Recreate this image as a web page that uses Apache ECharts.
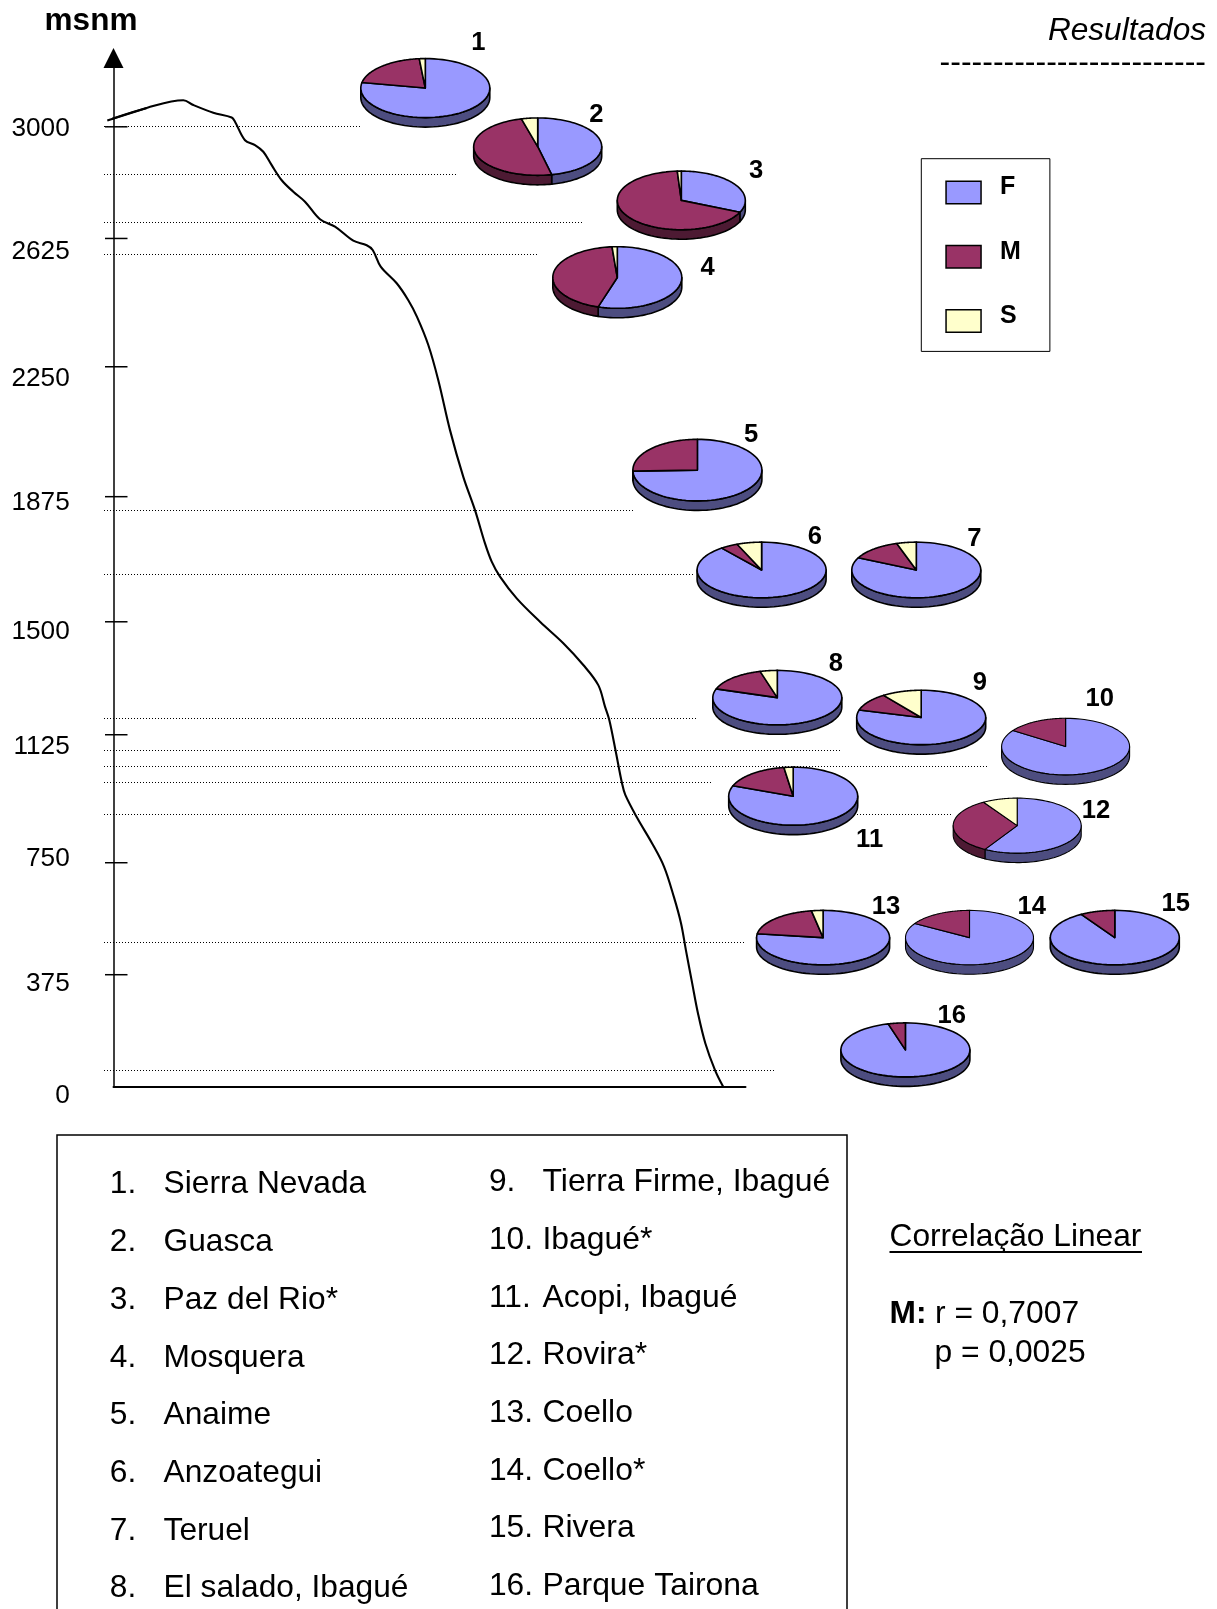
<!DOCTYPE html>
<html>
<head>
<meta charset="utf-8">
<title>msnm</title>
<script src="https://cdn.jsdelivr.net/npm/echarts@6/dist/echarts.min.js"></script>
<style>html,body{margin:0;padding:0;background:#fff}#c{width:1217px;height:1609px}</style>
</head>
<body>
<div id="c"></div>
<script>
// ---------- data ----------
const profileAcross = [-6.2,33.2,69.8,79.8,99.8,118.2,121.5,131.5,141.5,149.8,158.2,168.2,179.8,191.5,206.5,221.5,239.8,253.2,259.2,267.2,283.2,294.8,303.5,314.8,324.8,336.5,349.8,361.5,371.5,378.2,386.5,403.2,426.5,449.8,469.8,484.8,491.5,495.8,502.1,508.4,511.8,523.9,538.5,550.5,560.3,567.5,572.4,578.7,584.5,591.8,601.5,609.7];
const profileHeight = [3020,3059,3083,3068,3044,3029,3016,2958,2943,2922,2880,2833,2797,2766,2711,2688,2644,2630,2615,2563,2511,2458,2406,2318,2208,2052,1906,1802,1698,1641,1594,1526,1453,1386,1318,1255,1188,1146,1050,950,912,839,761,688,594,511,427,323,229,136,52,0];

const siteHeights = [3000,2850,2700,2600,1800,1600,1150,1050,1000,950,850,450,50];
const siteReach   = [247.2,342.5,469.2,423.2,519.2,581.2,584.1,726.5,873,599.8,837.5,630.5,661.2];

const tickLabels   = ['0','375','750','1125','1500','1875','2250','2625','3000'];
const tickDrawnAt  = [0,350,700,1100,1453,1844,2250,2651,3000];
const labelDrawnAt = [-21,328,719,1068,1430,1832,2219,2618,3000];

const pieNames = ['1','2','3','4','5','6','7','8','9','10','11','12','13','14','15','16'];
const pieF = [78,46.5,31.6,54.8,74.5,89.4,82.2,80.2,79.4,84.6,80.8,58.4,77.3,83.7,91.3,95.7];
const pieM = [20.5,49.4,67.4,43.9,25.5,4.4,12.9,15.5,10.7,15.4,16.9,32.8,19.9,16.3,8.7,4.3];
const pieS = [1.5,4.1,1,1.3,0,6.2,4.9,4.3,9.9,0,2.3,8.8,2.8,0,0,0];
const pieHeight = [3121,2938,2770,2529,1927,1615,1615,1216,1154,1063,908,816,466,466,466,115];
const pieAcross = [311.8,424.2,567.8,503.8,583.9,648.1,802.8,663.8,807.7,952.1,679.7,903.7,709.6,856,1001.3,791.9];

const sitesLeft  = ['Sierra Nevada','Guasca','Paz del Rio*','Mosquera','Anaime','Anzoategui','Teruel','El salado, Ibagué'];
const sitesRight = ['Tierra Firme, Ibagué','Ibagué*','Acopi, Ibagué','Rovira*','Coello','Coello*','Rivera','Parque Tairona'];

// ---------- layout and style ----------
const pieRadiusX = [64.5,64,64,64.5,64.5,64.5,64.5,64.5,64.5,64,64.5,64,66.5,64,64.5,64.5];
const pieRadiusY = [29.5,28.7,29.3,30.8,30.8,27.8,27.8,27.2,27.2,28.3,29,27.5,27.2,27.2,27.2,27];
const pieDepth = 9.5;
const pieLabelDx = [53,58.6,74.7,90.4,53.6,53.2,58.1,58.6,58.6,34.2,76.4,78.7,62.9,62.2,61,46.4];
const pieLabelDy = [-47.3,-34.4,-32,-11.6,-37.3,-36,-33.3,-36,-36.6,-50,41.7,-17.4,-33.4,-33.4,-36,-36];
const thinOutline = [9,11,13];
const colF = ['#9999FF','#4D4D80'], colM = ['#993366','#4D1A33'], colS = ['#FFFFCC','#80806A'];
const FONT = '"Liberation Sans", Arial, sans-serif';

const chart = echarts.init(document.getElementById('c'), null, {renderer:'canvas'});

function sliceRender(colors){
  return function(params, api){
    const share = api.value(2);
    if (!share) return null;
    const i = api.value(4);
    const c = api.coord([api.value(0), api.value(1)]);
    const rx = pieRadiusX[i], ry = pieRadiusY[i];
    const a0 = api.value(3) * 3.6, a1 = (api.value(3) + share) * 3.6;
    const lw = thinOutline.indexOf(i) >= 0 ? 1.1 : 1.6;
    const pt = (deg, dy) => {
      const r = deg * Math.PI / 180;
      return [c[0] + rx * Math.sin(r), c[1] - ry * Math.cos(r) + (dy || 0)];
    };
    const kids = [];
    const w0 = Math.max(a0, 90), w1 = Math.min(a1, 270);
    if (w1 > w0) {
      const up = [], down = [];
      for (let k = 0; k <= 48; k++) {
        const d = w0 + (w1 - w0) * k / 48;
        up.push(pt(d, 0));
        down.unshift(pt(d, pieDepth));
      }
      kids.push({type:'polygon', shape:{points: up.concat(down)},
        style:{fill: colors[1], stroke:'#000', lineWidth: lw, lineJoin:'round'}});
    }
    const top = [[c[0], c[1]]];
    for (let k = 0; k <= 72; k++) top.push(pt(a0 + (a1 - a0) * k / 72, 0));
    kids.push({type:'polygon', shape:{points: top},
      style:{fill: colors[0], stroke:'#000', lineWidth: lw, lineJoin:'round'}});
    return {type:'group', children: kids};
  };
}

function sliceData(values, starts){
  return values.map((v, i) => [pieAcross[i], pieHeight[i], v, starts[i], i]);
}
const zeros = pieF.map(() => 0);
const afterF = pieF.slice();
const afterM = pieF.map((v, i) => v + pieM[i]);

const base = {animation:false, silent:true, z:5};

const series = [
  {type:'custom', name:'dotted', silent:true, animation:false, z:1,
   data: siteHeights.map((h, i) => [siteReach[i], h]),
   encode:{x:0, y:1},
   renderItem(params, api){
     const a = api.coord([-9.2, api.value(1)]);
     const b = api.coord([api.value(0), api.value(1)]);
     const y = Math.floor(a[1]) + 0.5;
     return {type:'line', shape:{x1:Math.round(a[0]), y1:y, x2:Math.round(b[0]), y2:y},
       style:{stroke:'#000', lineWidth:1, lineDash:[1,2]}};
   }},
  {type:'custom', name:'ticks', silent:true, animation:false, z:3,
   data: tickDrawnAt.map((h, i) => [h, labelDrawnAt[i], i]),
   encode:{y:0},
   renderItem(params, api){
     const i = api.value(2);
     const a = api.coord([-8.5, api.value(0)]);
     const b = api.coord([14, api.value(0)]);
     const l = api.coord([-43.8, api.value(1)]);
     const kids = [{type:'text', x:l[0], y:l[1] + 2.3,
       style:{text: tickLabels[i], font:'26.2px ' + FONT, fill:'#000', align:'right', verticalAlign:'middle'}}];
     if (i > 0) kids.push({type:'line', shape:{x1:a[0], y1:a[1], x2:b[0], y2:b[1]},
       style:{stroke:'#000', lineWidth:1.5}});
     return {type:'group', children:kids};
   }},
  {type:'line', name:'perfil', data: profileAcross.map((x, i) => [x, profileHeight[i]]),
   showSymbol:false, symbol:'none', smooth:0.35, clip:false, animation:false, silent:true, z:4,
   lineStyle:{color:'#000', width:2.1}},
  // the profile starts a little left of the axis, outside the line series' plotting area
  {type:'custom', name:'perfil-inicio', silent:true, animation:false, z:4,
   data:[[profileAcross[0], profileHeight[0], profileAcross[1], profileHeight[1]]],
   encode:{x:0, y:1},
   renderItem(params, api){
     const a = api.coord([api.value(0), api.value(1)]);
     const b = api.coord([api.value(2), api.value(3)]);
     return {type:'line', shape:{x1:a[0], y1:a[1], x2:b[0], y2:b[1]}, style:{stroke:'#000', lineWidth:2.1}};
   }},
  Object.assign({type:'custom', name:'F', data:sliceData(pieF, zeros), itemStyle:{color:colF[0]},
    encode:{x:0, y:1}, renderItem:sliceRender(colF)}, base),
  Object.assign({type:'custom', name:'M', data:sliceData(pieM, afterF), itemStyle:{color:colM[0]},
    encode:{x:0, y:1}, renderItem:sliceRender(colM)}, base),
  Object.assign({type:'custom', name:'S', data:sliceData(pieS, afterM), itemStyle:{color:colS[0]},
    encode:{x:0, y:1}, renderItem:sliceRender(colS)}, base),
  {type:'custom', name:'numbers', silent:true, animation:false, z:6,
   data: pieNames.map((n, i) => [pieAcross[i], pieHeight[i], i]),
   encode:{x:0, y:1},
   renderItem(params, api){
     const i = api.value(2);
     const c = api.coord([api.value(0), api.value(1)]);
     return {type:'text', x:c[0] + pieLabelDx[i], y:c[1] + pieLabelDy[i] + 2.5,
       style:{text: pieNames[i], font:'bold 25.6px ' + FONT, fill:'#000', align:'center', verticalAlign:'middle'}};
   }}
];

function txt(text, x, baseline, size, opts){
  opts = opts || {};
  const font = (opts.style || '') + ' ' + size + 'px ' + FONT;
  return {type:'text', x:x, y:baseline - 0.27 * size, silent:true,
    style:{text:text, font:font.trim(), fill:'#000', align:opts.align || 'left', verticalAlign:'middle'}};
}

const graphics = [
  {type:'rect', silent:true, shape:{x:57, y:1135, width:790, height:520},
   style:{fill:'#fff', stroke:'#000', lineWidth:1.5}, z:0},
  txt('Resultados', 1206, 40, 31.6, {style:'italic', align:'right'}),
  txt('-------------------------', 1206, 72, 32, {align:'right'}),
  txt('Correlação Linear', 889.5, 1246, 31.7),
  {type:'line', silent:true, shape:{x1:889.5, y1:1252, x2:1142, y2:1252}, style:{stroke:'#000', lineWidth:2}},
  txt('M:', 889.5, 1323.3, 31.7, {style:'bold'}),
  txt('r = 0,7007', 935, 1323.3, 31.8),
  txt('p = 0,0025', 934.5, 1361.7, 31.8)
];
sitesLeft.forEach((name, i) => {
  const b = 1193.3 + 57.7 * i;
  graphics.push(txt((i + 1) + '.', 109.8, b, 31.7));
  graphics.push(txt(name, 163.6, b, 31.7));
});
sitesRight.forEach((name, i) => {
  const b = 1191 + 57.7 * i;
  graphics.push(txt((i + 9) + '.', 489, b, 31.7));
  graphics.push(txt(name, 542.5, b, 31.9));
});

chart.setOption({
  backgroundColor:'#fff',
  animation:false,
  textStyle:{fontFamily:FONT},
  grid:{left:113.5, top:58, width:632, height:1028.7, containLabel:false},
  xAxis:{type:'value', min:0, max:632, axisTick:{show:false}, axisLabel:{show:false}, splitLine:{show:false},
    axisLine:{show:true, lineStyle:{color:'#000', width:2}}},
  yAxis:{type:'value', min:0, max:3215, name:'msnm', nameLocation:'end', nameGap:37,
    nameTextStyle:{fontFamily:FONT, fontSize:31.5, fontWeight:'bold', color:'#000', align:'center', verticalAlign:'middle', padding:[0,45,0,0]},
    axisTick:{show:false}, axisLabel:{show:false}, splitLine:{show:false},
    axisLine:{show:true, symbol:['none','triangle'], symbolSize:[20,20], lineStyle:{color:'#000', width:1.5}}},
  legend:{
    left:921.3, top:158.7, orient:'vertical', selectedMode:false,
    padding:[16.3,29,12.8,24], itemGap:29.3, itemWidth:35, itemHeight:22.5, icon:'rect',
    borderColor:'#000', borderWidth:1,
    formatter: name => name + '\n ',
    textStyle:{fontFamily:FONT, fontSize:25, lineHeight:10, fontWeight:'bold', color:'#000', padding:[0,0,0,14]},
    data:[
      {name:'F', itemStyle:{color:colF[0], borderColor:'#000', borderWidth:1.5}},
      {name:'M', itemStyle:{color:colM[0], borderColor:'#000', borderWidth:1.5}},
      {name:'S', itemStyle:{color:colS[0], borderColor:'#000', borderWidth:1.5}}
    ]
  },
  graphic:{elements:graphics},
  series:series
});
</script>
</body>
</html>
